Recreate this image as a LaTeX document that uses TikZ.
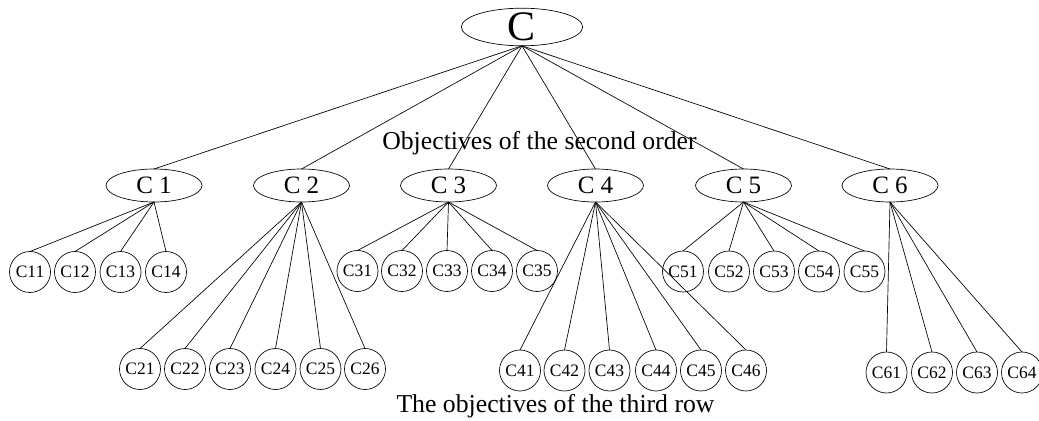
\documentclass[tikz,border=0pt]{standalone}
\usepackage{fontspec}
\setmainfont{Liberation Serif}
\usetikzlibrary{shapes.geometric}
\begin{document}
\begin{tikzpicture}[x=0.75pt,y=-0.75pt,
  every node/.style={inner sep=0pt,outer sep=0pt},
  rootnode/.style={ellipse,draw,line width=0.5pt,minimum width=91pt,minimum height=28.2pt},
  rootlabel/.style={font=\fontsize{31.5}{32}\selectfont},
  midnode/.style={ellipse,draw,line width=0.5pt,minimum width=72pt,minimum height=24.75pt,
    font=\fontsize{18.75}{19}\selectfont},
  leafnode/.style={circle,draw,line width=0.5pt,minimum size=30.75pt,
    font=\fontsize{13.1}{13}\selectfont},
  link/.style={line width=0.5pt},
  rowtitle/.style={font=\fontsize{19.3}{20}\selectfont,anchor=base}
]
\useasboundingbox (0,0) rectangle (1039,421);

% goal at the top
\node[rootnode,label={[rootlabel]center:C}] (C) at (522,27) {};

% objectives of the second order
\foreach \i/\x in {1/154,2/301.5,3/448.5,4/595.5,5/743.5,6/890}{
  \node[midnode] (C\i) at (\x,185.5) {C \i};
  \draw[link] (C.south) -- (C\i.north);
}

% objectives of the third row
\foreach \j/\x in {1/30,2/75,3/120.5,4/166}{
  \node[leafnode] (C1\j) at (\x,272) {C1\j};
  \draw[link] (C1.south) -- (C1\j.north);
}
\foreach \j/\x in {1/140,2/185,3/230,4/275.5,5/320.5,6/365}{
  \node[leafnode] (C2\j) at (\x,369) {C2\j};
  \draw[link] (C2.south) -- (C2\j.north);
}
\foreach \j/\x in {1/357.5,2/402,3/447,4/492,5/537}{
  \node[leafnode] (C3\j) at (\x,271) {C3\j};
  \draw[link] (C3.south) -- (C3\j.north);
}
\foreach \j/\x in {1/520,2/564.5,3/609.5,4/656,5/701,6/746}{
  \node[leafnode] (C4\j) at (\x,370.5) {C4\j};
  \draw[link] (C4.south) -- (C4\j.north);
}
\foreach \j/\x in {1/683,2/729,3/774,4/819,5/864.5}{
  \node[leafnode] (C5\j) at (\x,271.5) {C5\j};
  \draw[link] (C5.south) -- (C5\j.north);
}
\foreach \j/\x in {1/886.5,2/932,3/977,4/1022}{
  \node[leafnode] (C6\j) at (\x,372.5) {C6\j};
  \draw[link] (C6.south) -- (C6\j.north);
}

% row titles
\node[rowtitle] (second) at (539.5,149) {Objectives of the second order};
\node[rowtitle] (third) at (555.5,412) {The objectives of the third row};
\end{tikzpicture}
\end{document}
